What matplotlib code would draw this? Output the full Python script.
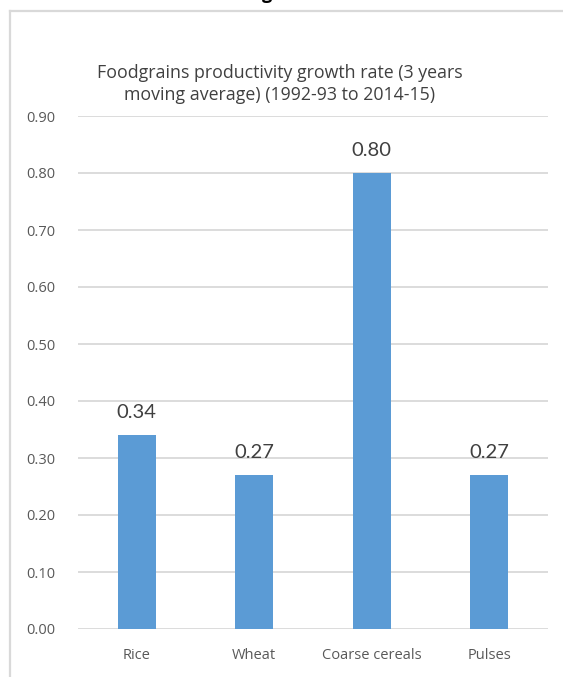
import matplotlib.pyplot as plt
from matplotlib.lines import Line2D

categories = ['Rice', 'Wheat', 'Coarse cereals', 'Pulses']
growth_rate = [0.34, 0.27, 0.80, 0.27]
yticks = [0.0, 0.1, 0.2, 0.3, 0.4, 0.5, 0.6, 0.7, 0.8, 0.9]

W, H = 563, 677
fig = plt.figure(figsize=(W / 100, H / 100), dpi=100)
fig.patch.set_facecolor('white')

# chart frame (left and top edges only)
frame_col = '#d9d9d9'
fig.add_artist(Line2D([10 / W, 10 / W], [0, 1 - 11 / H], transform=fig.transFigure,
                      color=frame_col, lw=1.6))
fig.add_artist(Line2D([10 / W, 1], [1 - 11 / H, 1 - 11 / H], transform=fig.transFigure,
                      color=frame_col, lw=1.6))
# tail of the heading text above the chart
fig.text(267 / W, 1 + 1 / H, 'g', ha='center', va='baseline', fontsize=13,
         fontweight='bold', color='black', family='Open Sans')

ax = fig.add_axes([78 / W, 48 / H, 470 / W, 513 / H])
x = range(len(categories))
ax.bar(x, growth_rate, width=0.32, color='#5b9bd5', zorder=3)

for xi, v in zip(x, growth_rate):
    ax.annotate(f'{v:.2f}', (xi, v), xytext=(0, 12.5), textcoords='offset points',
                ha='center', va='baseline', fontsize=14.5, color='#404040', family='Lato')

ax.set_xlim(-0.5, len(categories) - 0.5)
ax.set_ylim(0, 0.9)
ax.set_yticks(yticks)
ax.set_yticklabels([f'{t:.2f}' for t in yticks])
ax.set_xticks(list(x))
ax.set_xticklabels(categories)
ax.tick_params(length=0, labelsize=10.5, labelcolor='#595959')
ax.tick_params(axis='y', pad=16)
ax.tick_params(axis='x', pad=14)
for lab in ax.get_xticklabels() + ax.get_yticklabels():
    lab.set_family('Open Sans')

ax.grid(axis='y', color='#d9d9d9', lw=1.3, zorder=0)
for s in ax.spines.values():
    s.set_visible(False)

fig.text(280 / W, 1 - 84 / H, 'Foodgrains productivity growth rate (3 years\nmoving average) (1992-93 to 2014-15)',
         ha='center', va='center', fontsize=12.8, color='#404040', family='Open Sans',
         linespacing=1.3)

fig.savefig('out.png', dpi=100)
